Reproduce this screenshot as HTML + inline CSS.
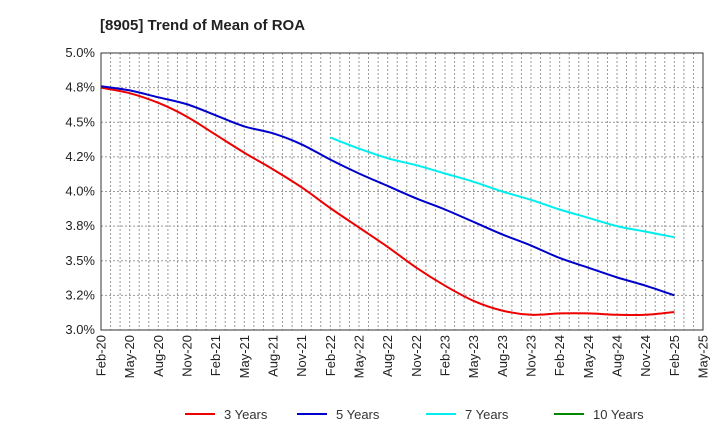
<!DOCTYPE html>
<html><head><meta charset="utf-8"><style>
body{margin:0;background:#fff;font-family:"Liberation Sans",Arial,sans-serif;}
svg text{font-family:"Liberation Sans",Arial,sans-serif;}
</style></head><body>
<svg id="c" width="720" height="440" xmlns="http://www.w3.org/2000/svg">
<text x="100" y="30" font-size="15" font-weight="bold" fill="#222">[8905]  Trend of Mean of ROA</text>
<g id="grid"></g><g id="series"></g><g id="axes"></g><g id="legend"></g>
</svg>
<script>
const xLabels=["Feb-20","May-20","Aug-20","Nov-20","Feb-21","May-21","Aug-21","Nov-21","Feb-22","May-22","Aug-22","Nov-22","Feb-23","May-23","Aug-23","Nov-23","Feb-24","May-24","Aug-24","Nov-24","Feb-25","May-25"];
const yTicks=[3.0,3.25,3.5,3.75,4.0,4.25,4.5,4.75,5.0];
const yTickLabels=["3.0%","3.2%","3.5%","3.8%","4.0%","4.2%","4.5%","4.8%","5.0%"];
const red3=[4.75,4.71,4.64,4.54,4.41,4.28,4.16,4.03,3.88,3.74,3.60,3.45,3.32,3.21,3.14,3.11,3.12,3.12,3.11,3.11,3.13];
const blue5=[4.76,4.73,4.68,4.63,4.55,4.47,4.42,4.34,4.23,4.13,4.04,3.95,3.87,3.78,3.69,3.61,3.52,3.45,3.38,3.32,3.25];
const cyan7=[4.39,4.31,4.24,4.19,4.13,4.07,4.00,3.94,3.87,3.81,3.75,3.71,3.67];
const cyanStart=8;
const ten10=[];
const L=101,R=703,T=53,B=330,months=63;
const xM=m=>L+(R-L)*m/months;
const xQ=q=>xM(q*3);
const y=v=>B-(v-3.0)/2.0*(B-T);
const NS="http://www.w3.org/2000/svg";
function mk(tag,attrs,parent){const e=document.createElementNS(NS,tag);for(const k in attrs)e.setAttribute(k,attrs[k]);parent.appendChild(e);return e;}
const g=document.getElementById('grid'),ax=document.getElementById('axes'),sg=document.getElementById('series'),lg=document.getElementById('legend');
for(let m=1;m<months;m++){const l=mk('line',{x1:xM(m),x2:xM(m),y1:T,y2:B,stroke:'#999','stroke-dasharray':'2,2','stroke-width':1},g);

}
yTicks.forEach((v,i)=>{const l=mk('line',{x1:L,x2:R,y1:y(v),y2:y(v),stroke:'#999','stroke-dasharray':'2,2','stroke-width':1},g);


const t=mk('text',{x:L-6,y:y(v)+4,'text-anchor':'end','font-size':13,fill:'#222'},ax);t.textContent=yTickLabels[i];

});
const fr=mk('rect',{x:L,y:T,width:R-L,height:B-T,fill:'none',stroke:'#333','stroke-width':1},ax);


xLabels.forEach((s,i)=>{const x=xQ(i);const t=mk('text',{x:0,y:0,'text-anchor':'end','font-size':13,fill:'#222',transform:`translate(${x+4.5},${B+5}) rotate(-90)`},ax);t.textContent=s;

});
function path(vals,start){const p=vals.map((v,i)=>[xQ(start+i),y(v)]);let d=`M${p[0][0]},${p[0][1]}`;
for(let i=0;i<p.length-1;i++){const p0=p[i-1]||p[i],p1=p[i],p2=p[i+1],p3=p[i+2]||p2;
d+=` C${p1[0]+(p2[0]-p0[0])/6},${p1[1]+(p2[1]-p0[1])/6} ${p2[0]-(p3[0]-p1[0])/6},${p2[1]-(p3[1]-p1[1])/6} ${p2[0]},${p2[1]}`;}return d;}
const series=[[red3,0,'#ee0000','3 Years','series-3-years'],[blue5,0,'#0000cc','5 Years','series-5-years'],[cyan7,cyanStart,'#00eeee','7 Years','series-7-years'],[ten10,0,'#008800','10 Years','series-10-years']];
const lx=[185,297,426,554];
series.forEach((s,i)=>{if(s[0].length){const p=mk('path',{d:path(s[0],s[1]),fill:'none',stroke:s[2],'stroke-width':2},sg);

}
const ll=mk('line',{x1:lx[i],x2:lx[i]+30,y1:414,y2:414,stroke:s[2],'stroke-width':2},lg);


const t=mk('text',{x:lx[i]+39,y:419,'font-size':13,fill:'#333'},lg);t.textContent=s[3];

});
</script>
</body></html>
